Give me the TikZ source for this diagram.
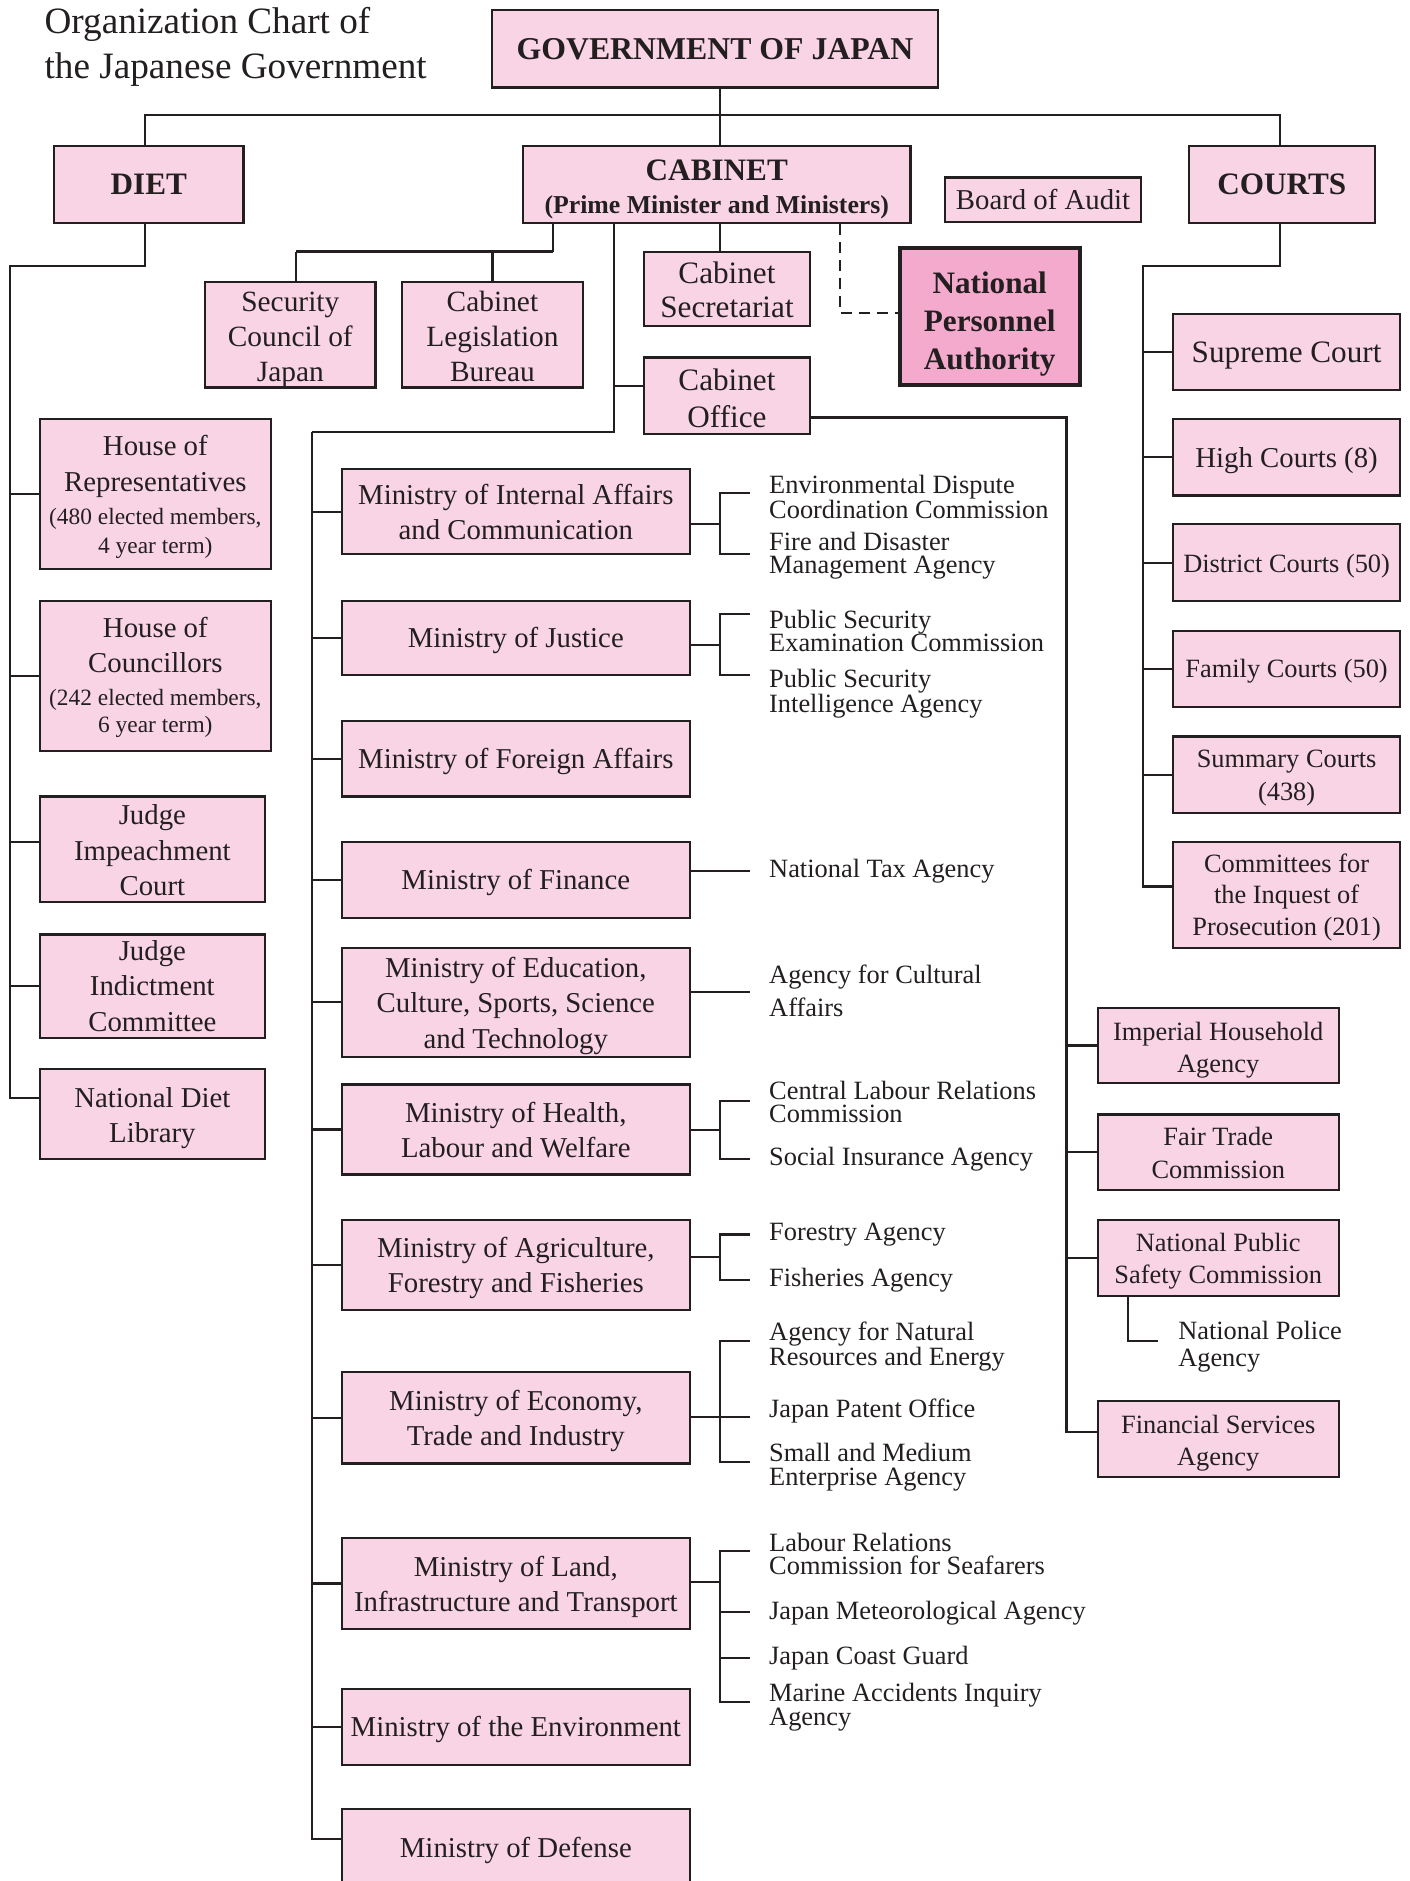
\documentclass[tikz,border=0pt]{standalone}
\usepackage{fontspec}
\setmainfont{Liberation Serif}
\usetikzlibrary{calc}
\definecolor{pk}{RGB}{249,212,228}
\definecolor{pkd}{RGB}{243,170,205}
\definecolor{ln}{RGB}{35,31,32}
\tikzset{
 box/.style={draw=ln, fill=pk, line width=1.8pt, inner sep=0pt, align=center, text=ln},
 th/.style={text height=#1, text depth=0pt},
 mbox/.style={box, minimum width=290pt, font=\fontsize{24}{29.5}\selectfont},
 dbox/.style={box, font=\fontsize{24}{29.5}\selectfont},
 cbox/.style={box, minimum width=189pt},
 rbox/.style={box, minimum width=201pt, minimum height=63pt, font=\fontsize{22}{27}\selectfont, th=44pt},
 ag/.style={anchor=west, inner sep=0pt, align=left, text=ln, font=\fontsize{22}{19.5}\selectfont},
 conn/.style={draw=ln, line width=1.8pt},
 head/.style={box, font=\bfseries\fontsize{26}{30}\selectfont},
}
\begin{document}
\begin{tikzpicture}[x=1pt,y=-1pt]
\useasboundingbox (0,0) rectangle (1175,1568);
\clip (0,0) rectangle (1175,1568);
\fill[white] (0,0) rectangle (1175,1568);

% title
\node[anchor=north west, inner sep=0pt, align=left, text=ln, font=\fontsize{31}{37}\selectfont] (title) at (37,6) {Organization Chart of\\the Japanese Government};

% top level
\node[head, minimum width=372pt, minimum height=65pt, font=\bfseries\fontsize{26.5}{30}\selectfont, th=18pt] (gov) at (596,40.5) {GOVERNMENT OF JAPAN};
\node[head, minimum width=158pt, minimum height=64pt, th=16.6pt] (diet) at (124,154) {DIET};
\node[head, minimum width=323pt, minimum height=64pt, th=47.8pt] (cab) at (597.5,154) {CABINET\\[-2.4pt]\fontsize{21.5}{29}\selectfont(Prime Minister and Ministers)};
\node[box, minimum width=163pt, minimum height=37pt, font=\fontsize{24}{28}\selectfont, th=16.4pt] (boa) at (869.5,166.5) {Board of Audit};
\node[head, minimum width=155pt, minimum height=64pt, th=16.6pt] (courts) at (1068.5,154) {COURTS};

\coordinate (bus) at (600,96);
\coordinate (bl) at (121,96);
\coordinate (br) at (1067,96);
\draw[conn] (bus |- gov.south) -- (bus |- cab.north);
\draw[conn] (bl |- diet.north) -- (bl) -- (br) -- (br |- courts.north);

% cabinet children
\node[box, minimum width=142pt, minimum height=88pt, font=\fontsize{24.5}{29}\selectfont, th=77.6pt] (scj) at (242,279) {Security\\Council of\\Japan};
\node[box, minimum width=151pt, minimum height=88pt, font=\fontsize{24.5}{29}\selectfont, th=77.6pt] (clb) at (410.5,279) {Cabinet\\Legislation\\Bureau};
\coordinate (cj) at (461,210);
\coordinate (cjl) at (247,210);
\draw[conn] (cj |- cab.south) -- (cj);
\draw[conn, line width=2.6pt] (cj) -- (cjl);
\draw[conn] (cjl) -- (cjl |- scj.north);
\draw[conn] (cj -| clb.north) -- (clb.north);

\node[box, minimum width=138pt, minimum height=62pt, font=\fontsize{26}{28}\selectfont, th=46.6pt] (csec) at (606,241) {Cabinet\\Secretariat};
\draw[conn] (bus |- cab.south) -- (bus |- csec.north);

\node[box, fill=pkd, line width=3.6pt, minimum width=150pt, minimum height=114pt, font=\bfseries\fontsize{26}{32}\selectfont, th=88.6pt] (npa) at (825,264) {National\\Personnel\\Authority};
\coordinate (dj) at (700,261);
\draw[conn, line width=1.6pt, dash pattern=on 9pt off 6pt] (dj |- cab.south) -- (dj) -- (dj -| npa.west);

\node[box, minimum width=138pt, minimum height=64pt, font=\fontsize{26}{31}\selectfont, th=52.6pt] (coff) at (606,330) {Cabinet\\Office};
\coordinate (cv) at (512,360);
\coordinate (sp) at (260,360);
\coordinate (cow) at ([yshift=8pt]coff.west);
\draw[conn] (cv |- cab.south) -- (cv) -- (sp);
\draw[conn] (cow) -- (cow -| cv);

% ministries
\node[mbox, minimum height=71pt, th=46.6pt] (m1) at (430,426.5) {Ministry of Internal Affairs\\and Communication};
\node[mbox, minimum height=62pt, th=16pt] (m2) at (430,532) {Ministry of Justice};
\node[mbox, minimum height=63pt, th=16pt] (m3) at (430,632.5) {Ministry of Foreign Affairs};
\node[mbox, minimum height=63pt, th=16pt] (m4) at (430,733.5) {Ministry of Finance};
\node[mbox, minimum height=91pt, th=76.4pt] (m5) at (430,835.5) {Ministry of Education,\\Culture, Sports, Science\\and Technology};
\node[mbox, minimum height=75pt, th=46.6pt] (m6) at (430,941.5) {Ministry of Health,\\Labour and Welfare};
\node[mbox, minimum height=75pt, th=46.6pt] (m7) at (430,1054.5) {Ministry of Agriculture,\\Forestry and Fisheries};
\node[mbox, minimum height=76pt, th=46.6pt] (m8) at (430,1182) {Ministry of Economy,\\Trade and Industry};
\node[mbox, minimum height=76pt, th=46.6pt] (m9) at (430,1320) {Ministry of Land,\\Infrastructure and Transport};
\node[mbox, minimum height=63pt, th=16pt] (m10) at (430,1439.5) {Ministry of the Environment};
\node[mbox, minimum height=64pt, th=16pt] (m11) at (430,1540) {Ministry of Defense};

\coordinate (mdt) at ([yshift=7pt]m11.west);
\draw[conn] (sp) -- (sp |- mdt) -- (mdt);
\foreach \m in {m1,m2,m3,m4,m5,m6,m7,m8,m9,m10}{
  \draw[conn] (sp |- \m.west) -- (\m.west);
}

% agencies
\node[ag] (a11) at (641,414) {Environmental Dispute\\Coordination Commission};
\node[ag] (a12) at (641,463) {Fire and Disaster\\Management Agency};
\coordinate (t11) at (625,411); \coordinate (t12) at (625,462); \coordinate (b1) at (600,437);
\draw[conn] (t11) -- (t11 -| b1) -- (t12 -| b1) -- (t12);
\draw[conn] (m1.east |- b1) -- (b1);

\node[ag] (a21) at (641,526) {Public Security\\Examination Commission};
\node[ag] (a22) at (641,578) {Public Security\\Intelligence Agency};
\coordinate (t21) at (625,512); \coordinate (t22) at (625,563); \coordinate (b2) at (600,537.5);
\draw[conn] (t21) -- (t21 -| b2) -- (t22 -| b2) -- (t22);
\draw[conn] (m2.east |- b2) -- (b2);

\node[ag] (a41) at (641,726.5) {National Tax Agency};
\coordinate (t41) at (625,726);
\draw[conn] (m4.east |- t41) -- (t41);

\node[ag, font=\fontsize{22}{27}\selectfont] (a51) at (641,826) {Agency for Cultural\\Affairs};
\coordinate (t51) at (625,827);
\draw[conn] (m5.east |- t51) -- (t51);

\node[ag] (a61) at (641,918.5) {Central Labour Relations\\Commission};
\node[ag] (a62) at (641,966.5) {Social Insurance Agency};
\coordinate (t61) at (625,918); \coordinate (t62) at (625,966); \coordinate (b6) at (600,942);
\draw[conn] (t61) -- (t61 -| b6) -- (t62 -| b6) -- (t62);
\draw[conn] (m6.east |- b6) -- (b6);

\node[ag] (a71) at (641,1029.5) {Forestry Agency};
\node[ag] (a72) at (641,1067.5) {Fisheries Agency};
\coordinate (t71) at (625,1029); \coordinate (t72) at (625,1067); \coordinate (b7) at (600,1048);
\draw[conn] (t71) -- (t71 -| b7) -- (t72 -| b7) -- (t72);
\draw[conn] (m7.east |- b7) -- (b7);

\node[ag] (a81) at (641,1122.5) {Agency for Natural\\Resources and Energy};
\node[ag] (a82) at (641,1176.5) {Japan Patent Office};
\node[ag] (a83) at (641,1223) {Small and Medium\\Enterprise Agency};
\coordinate (t81) at (625,1118); \coordinate (t82) at (625,1181); \coordinate (t83) at (625,1219); \coordinate (b8) at (600,1181);
\draw[conn] (t81) -- (t81 -| b8) -- (t83 -| b8) -- (t83);
\draw[conn] (m8.east |- b8) -- (t82);

\node[ag] (a91) at (641,1295.5) {Labour Relations\\Commission for Seafarers};
\node[ag] (a92) at (641,1344.5) {Japan Meteorological Agency};
\node[ag] (a93) at (641,1382.5) {Japan Coast Guard};
\node[ag] (a94) at (641,1423) {Marine Accidents Inquiry\\Agency};
\coordinate (t91) at (625,1293); \coordinate (t92) at (625,1344); \coordinate (t93) at (625,1382); \coordinate (t94) at (625,1419); \coordinate (b9) at (600,1319);
\draw[conn] (t91) -- (t91 -| b9) -- (t94 -| b9) -- (t94);
\draw[conn] (t92 -| b9) -- (t92);
\draw[conn] (t93 -| b9) -- (t93);
\draw[conn] (m9.east |- b9) -- (b9);

% right column under Cabinet Office
\node[rbox, th=45pt] (ihh) at (1015.5,871.5) {Imperial Household\\Agency};
\node[rbox, th=43pt] (ftc) at (1015.5,960.5) {Fair Trade\\Commission};
\node[rbox, th=43pt] (npsc) at (1015.5,1048.5) {National Public\\Safety Commission};
\node[rbox, th=45pt] (fsa) at (1015.5,1199.5) {Financial Services\\Agency};
\node[ag, font=\fontsize{22}{23}\selectfont] (npol) at (982,1122.5) {National Police\\Agency};
\coordinate (rc) at (889,349);
\coordinate (coe) at ([yshift=-18pt]coff.east);
\coordinate (fsat) at ([yshift=6pt]fsa.west);
\draw[conn] (coe) -- (coe -| rc) -- (rc |- fsat) -- (fsat);
\foreach \n in {ihh,ftc,npsc}{
  \draw[conn] (rc |- \n.west) -- (\n.west);
}
\coordinate (pv) at (940,1118);
\coordinate (pt) at (965,1118);
\draw[conn] (pv |- npsc.south) -- (pv) -- (pt);

% courts
\node[cbox, minimum height=63pt, font=\fontsize{26}{30}\selectfont, th=17.6pt] (sup) at (1072.5,293.5) {Supreme Court};
\node[cbox, minimum height=64pt, font=\fontsize{24}{28}\selectfont, th=17.4pt] (high) at (1072.5,381) {High Courts (8)};
\node[cbox, minimum height=64pt, font=\fontsize{22}{27}\selectfont, th=16pt] (dist) at (1072.5,469) {District Courts (50)};
\node[cbox, minimum height=63pt, font=\fontsize{22}{27}\selectfont, th=15pt] (fam) at (1072.5,557.5) {Family Courts (50)};
\node[cbox, minimum height=64pt, font=\fontsize{22}{27}\selectfont, th=42pt] (summ) at (1072.5,646) {Summary Courts\\(438)};
\node[cbox, minimum height=88pt, font=\fontsize{22}{26.5}\selectfont, th=68pt] (comm) at (1072.5,746) {Committees for\\the Inquest of\\Prosecution (201)};
\coordinate (cr1) at (1067,222);
\coordinate (cr2) at (953,222);
\coordinate (comt) at ([yshift=7pt]comm.west);
\draw[conn] (cr1 |- courts.south) -- (cr1) -- (cr2) -- (cr2 |- comt) -- (comt);
\foreach \n in {sup,high,dist,fam,summ}{
  \draw[conn] (cr2 |- \n.west) -- (\n.west);
}

% diet children
\node[dbox, minimum width=193pt, minimum height=125pt, th=99pt] (hor) at (129.5,411.5) {House of\\[0.5pt]Representatives\\[-2.5pt]\fontsize{19.5}{24}\selectfont(480 elected members,\\[-5.5pt]\fontsize{19.5}{24}\selectfont 4 year term)};
\node[dbox, minimum width=193pt, minimum height=125pt, th=95pt] (hoc) at (129.5,563.5) {House of\\[0.5pt]Councillors\\[-2.5pt]\fontsize{19.5}{24}\selectfont(242 elected members,\\[-6.5pt]\fontsize{19.5}{24}\selectfont 6 year term)};
\node[dbox, minimum width=188pt, minimum height=88pt, th=77.4pt] (jic) at (127,708) {Judge\\Impeachment\\Court};
\node[dbox, minimum width=188pt, minimum height=86pt, th=75.4pt] (jid) at (127,822) {Judge\\Indictment\\Committee};
\node[dbox, minimum width=188pt, minimum height=75pt, th=48.4pt] (ndl) at (127,928.5) {National Diet\\Library};
\coordinate (d1) at (121,222);
\coordinate (d2) at (8,222);
\coordinate (jict) at ([yshift=6pt]jic.west);
\coordinate (ndlt) at ([yshift=13pt]ndl.west);
\draw[conn] (d1 |- diet.south) -- (d1) -- (d2) -- (d2 |- ndlt) -- (ndlt);
\draw[conn] (d2 |- hor.west) -- (hor.west);
\draw[conn] (d2 |- hoc.west) -- (hoc.west);
\draw[conn] (d2 |- jict) -- (jict);
\draw[conn] (d2 |- jid.west) -- (jid.west);
\end{tikzpicture}
\end{document}
